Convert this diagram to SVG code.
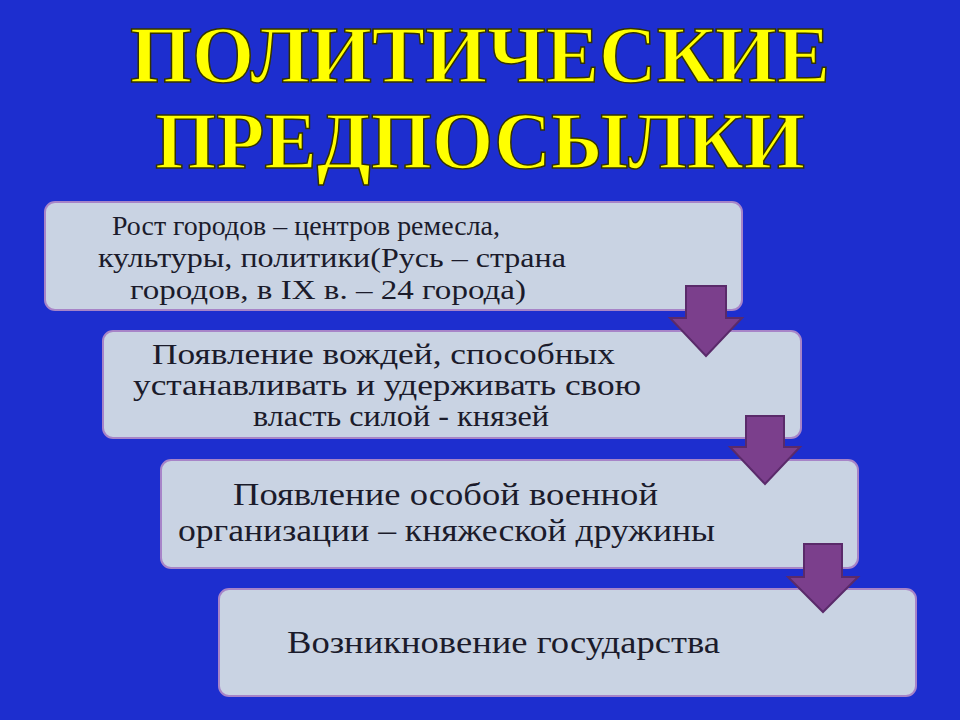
<svg xmlns="http://www.w3.org/2000/svg" width="960" height="720" viewBox="0 0 960 720">
<style>
.t{font-family:"Liberation Serif",serif;font-weight:bold;font-size:80px;fill:#ffff00;stroke:#333300;stroke-width:1.5;text-anchor:middle}
.b{fill:#c9d3e3;stroke:#a784c8;stroke-width:2}
.x{font-family:"Liberation Serif",serif;fill:#1b1b2b}
.a{fill:#7b3f8c;stroke:#5a2a6a;stroke-width:2}
</style>
<rect width="960" height="720" fill="#1d2ecf"/>
<text class="t" x="480" y="82" textLength="700" lengthAdjust="spacingAndGlyphs">ПОЛИТИЧЕСКИЕ</text>
<text class="t" x="480" y="168" textLength="650" lengthAdjust="spacingAndGlyphs">ПРЕДПОСЫЛКИ</text>
<g id="n1"><rect class="b" x="45" y="202" width="697" height="108" rx="10"/>
<text class="x" font-size="28"><tspan x="112" y="235" textLength="388" lengthAdjust="spacingAndGlyphs">Рост городов – центров ремесла,</tspan><tspan x="98" y="267" textLength="468" lengthAdjust="spacingAndGlyphs">культуры, политики(Русь – страна</tspan><tspan x="130" y="299" textLength="396" lengthAdjust="spacingAndGlyphs">городов, в IX в. – 24 города)</tspan></text></g>
<g id="n2"><rect class="b" x="103" y="331" width="698" height="107" rx="10"/>
<text class="x" font-size="30"><tspan x="152" y="364" textLength="463" lengthAdjust="spacingAndGlyphs">Появление вождей, способных</tspan><tspan x="133" y="395" textLength="508" lengthAdjust="spacingAndGlyphs">устанавливать и удерживать свою</tspan><tspan x="253" y="426" textLength="296" lengthAdjust="spacingAndGlyphs">власть силой - князей</tspan></text></g>
<g id="n3"><rect class="b" x="161" y="460" width="697" height="108" rx="10"/>
<text class="x" font-size="31"><tspan x="233" y="505" textLength="425" lengthAdjust="spacingAndGlyphs">Появление особой военной</tspan><tspan x="178" y="541" textLength="537" lengthAdjust="spacingAndGlyphs">организации – княжеской дружины</tspan></text></g>
<g id="n4"><rect class="b" x="219" y="589" width="697" height="107" rx="10"/>
<text class="x" font-size="32" x="287" y="653" textLength="433" lengthAdjust="spacingAndGlyphs">Возникновение государства</text></g>
<g id="connectors">
<path class="a" d="M686 286H726V318H742L706 356L670 318H686Z"/>
<path class="a" d="M746 416H784V447H800L765 484L730 447H746Z"/>
<path class="a" d="M804 544H842V577H858L823 612L788 577H804Z"/>
</g>
</svg>
